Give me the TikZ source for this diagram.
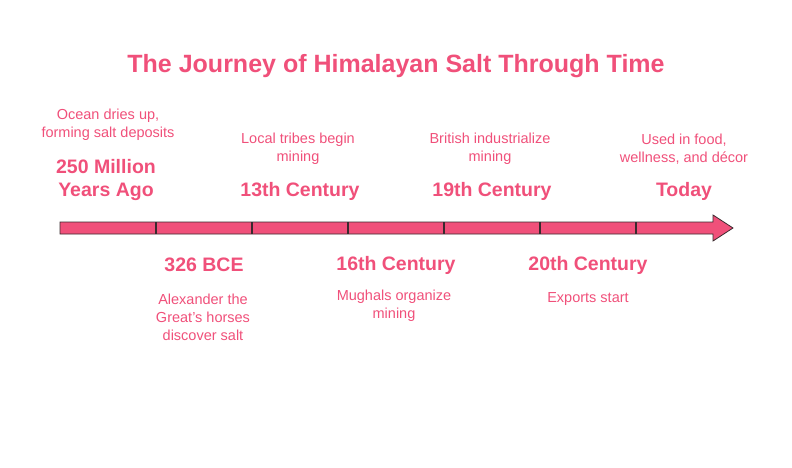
\documentclass[tikz,border=0pt]{standalone}
\usepackage{fontspec}
\setmainfont{Liberation Sans}
\usetikzlibrary{positioning}
\definecolor{saltpink}{HTML}{F0507A}
\definecolor{saltedge}{HTML}{3A2A2E}
\tikzset{
    era/.style = {text = saltpink, font = \bfseries\fontsize{19.5}{23}\selectfont, align = center},
    note/.style = {text = saltpink, font = \fontsize{14.5}{18}\selectfont, align = center}
}

\begin{document}
\begin{tikzpicture}[x = 1pt, y = -1pt]
    \useasboundingbox (0,0) rectangle (792,468);

    \node [text = saltpink, font = \bfseries\fontsize{25}{28}\selectfont] (title) at (396,66) {The Journey of Himalayan Salt Through Time};

    % timeline arrow
    \draw [fill = saltpink, draw = saltedge, line width = 0.8]
        (60,222) -- (713,222) -- (713,215) -- (733,228) -- (713,241) -- (713,234) -- (60,234) -- cycle;
    \foreach \x in {156,252,348,444,540,636}
        \draw [saltedge, line width = 1.2] (\x,222) -- (\x,234);

    % above the line
    \node [era]  (e1) at (106,180) {250 Million\\Years Ago};
    \node [note] (n1) at (108,125) {Ocean dries up,\\forming salt deposits};
    \node [era]  (e3) at (300,191) {13th Century};
    \node [note] (n3) at (298,149) {Local tribes begin\\mining};
    \node [era]  (e5) at (492,191) {19th Century};
    \node [note] (n5) at (490,149) {British industrialize\\mining};
    \node [era]  (e7) at (684,191) {Today};
    \node [note] (n7) at (684,149) {Used in food,\\wellness, and décor};

    % below the line
    \node [era]  (e2) at (204,265) {326 BCE};
    \node [note] (n2) at (203,317) {Alexander the\\Great's horses\\discover salt};
    \node [era]  (e4) at (396,265) {16th Century};
    \node [note] (n4) at (394,306) {Mughals organize\\mining};
    \node [era]  (e6) at (588,265) {20th Century};
    \node [note] (n6) at (588,299) {Exports start};
\end{tikzpicture}
\end{document}
